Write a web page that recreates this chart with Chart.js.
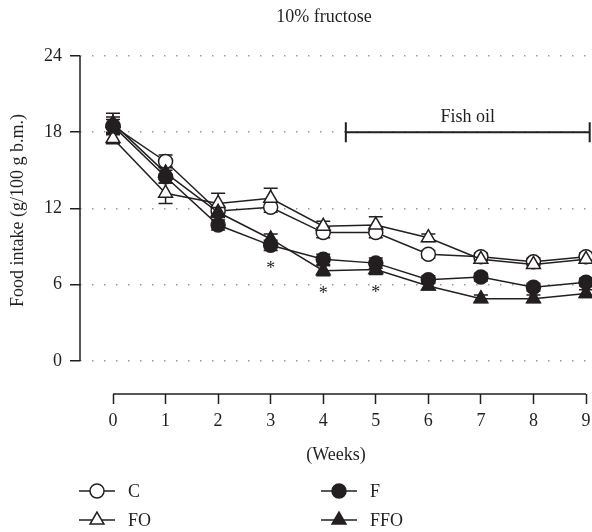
<!DOCTYPE html>
<html>
<head>
<meta charset="utf-8">
<script src="https://cdn.jsdelivr.net/npm/chart.js@4/dist/chart.umd.min.js"></script>
<style>
  html, body { margin: 0; padding: 0; background: #fff; }
  #wrap { width: 592px; height: 532px; }
</style>
</head>
<body>
<div id="wrap"><canvas id="chart-intake" width="592" height="532"></canvas></div>
<script>
// Food intake, 10% fructose study
const weeks = [0, 1, 2, 3, 4, 5, 6, 7, 8, 9];
const yTicks = [0, 6, 12, 18, 24];

const intakeC   = [18.5, 15.7, 11.8, 12.1, 10.1, 10.1, 8.4, 8.2, 7.8, 8.2];
const intakeFO  = [17.5, 13.2, 12.4, 12.8, 10.6, 10.7, 9.7, 8.0, 7.6, 8.0];
const intakeF   = [18.5, 14.5, 10.7, 9.1, 8.0, 7.7, 6.4, 6.6, 5.8, 6.2];
const intakeFFO = [18.7, 14.8, 11.7, 9.6, 7.1, 7.2, 5.9, 4.9, 4.9, 5.3];

const semC   = [0.5, 0.5, 0.4, 0.4, 0.4, 0.4, 0.3, 0.3, 0.3, 0.3];
const semFO  = [0.4, 0.8, 0.8, 0.8, 0.4, 0.65, 0.3, 0.3, 0.3, 0.3];
const semF   = [0.7, 0.5, 0.4, 0.4, 0.4, 0.4, 0.3, 0.3, 0.3, 0.3];
const semFFO = [0.8, 0.5, 0.4, 0.4, 0.4, 0.4, 0.3, 0.3, 0.3, 0.3];

const sigWeeks = [3, 4, 5];
const fishOilWeeks = [4.43, 9.07];
const fishOilLevel = 18;

const ink = '#231F20';
const serif = "'Liberation Serif', 'DejaVu Serif', serif";

function series(label, values, sem, style, filled, order) {
  return {
    label: label,
    data: values.map((v, i) => ({ x: weeks[i], y: v })),
    sem: sem,
    borderColor: ink,
    borderWidth: 1.5,
    backgroundColor: filled ? ink : '#FFFFFF',
    pointStyle: style,
    pointRadius: style === 'triangle' ? 8 : 7,
    pointBorderWidth: 1.5,
    pointBorderColor: ink,
    pointBackgroundColor: filled ? ink : '#FFFFFF',
    tension: 0,
    order: order,
  };
}

const extras = {
  id: 'extras',
  beforeDatasetsDraw(chart) {
    const { ctx, scales: { x, y } } = chart;
    ctx.save();
    ctx.strokeStyle = ink;
    ctx.lineWidth = 1.5;
    // error bars
    chart.data.datasets.forEach(ds => {
      ds.data.forEach((p, i) => {
        const e = ds.sem[i];
        const px = x.getPixelForValue(p.x);
        const top = y.getPixelForValue(p.y + e);
        const bot = y.getPixelForValue(p.y - e);
        ctx.beginPath();
        ctx.moveTo(px, top); ctx.lineTo(px, bot);
        ctx.moveTo(px - 7, top); ctx.lineTo(px + 7, top);
        ctx.moveTo(px - 7, bot); ctx.lineTo(px + 7, bot);
        ctx.stroke();
      });
    });
    // axis lines
    ctx.beginPath();
    ctx.moveTo(x.left, y.getPixelForValue(yTicks[0]));
    ctx.lineTo(x.left, y.getPixelForValue(yTicks[yTicks.length - 1]));
    ctx.moveTo(x.getPixelForValue(weeks[0]), y.bottom);
    ctx.lineTo(x.getPixelForValue(weeks[weeks.length - 1]), y.bottom);
    ctx.stroke();
    ctx.restore();
  },
  afterDraw(chart) {
    const { ctx, scales: { x, y } } = chart;
    ctx.save();
    ctx.fillStyle = ink;
    ctx.strokeStyle = ink;
    ctx.font = '18px ' + serif;
    ctx.textAlign = 'center';
    ctx.textBaseline = 'middle';

    // chart title
    ctx.fillText('10% fructose', 324, 17);

    // y axis title
    ctx.save();
    ctx.translate(18, y.getPixelForValue(12) + 2);
    ctx.rotate(-Math.PI / 2);
    ctx.fillText('Food intake (g/100 g b.m.)', 0, 0);
    ctx.restore();

    // fish oil bracket
    const bx1 = x.getPixelForValue(fishOilWeeks[0]);
    const bx2 = x.getPixelForValue(fishOilWeeks[1]);
    const by = y.getPixelForValue(fishOilLevel);
    ctx.lineWidth = 2;
    ctx.beginPath();
    ctx.moveTo(bx1, by); ctx.lineTo(bx2, by);
    ctx.moveTo(bx1, by - 10); ctx.lineTo(bx1, by + 10);
    ctx.moveTo(bx2, by - 10); ctx.lineTo(bx2, by + 10);
    ctx.stroke();
    ctx.fillText('Fish oil', (bx1 + bx2) / 2, by - 15);

    // significance marks under the fructose groups
    sigWeeks.forEach(w => {
      const i = weeks.indexOf(w);
      const low = Math.min(intakeF[i], intakeFFO[i]);
      ctx.fillText('*', x.getPixelForValue(w), y.getPixelForValue(low) + 24);
    });

    // legend
    const slots = [[97, 491], [97, 520], [339, 491], [339, 520]];
    ctx.lineWidth = 1.5;
    chart.data.datasets.forEach((ds, k) => {
      const [lx, ly] = slots[k];
      ctx.beginPath();
      ctx.moveTo(lx - 18, ly); ctx.lineTo(lx + 18, ly);
      ctx.stroke();
      ctx.fillStyle = ds.pointBackgroundColor;
      Chart.helpers.drawPoint(ctx, {
        pointStyle: ds.pointStyle, radius: ds.pointRadius, rotation: 0, borderWidth: 1.5,
      }, lx, ly);
      ctx.fillStyle = ink;
      ctx.textAlign = 'left';
      ctx.fillText(ds.label, lx + 31, ly + 1);
    });
    ctx.restore();
  },
};

const ctx = document.getElementById('chart-intake');
new Chart(ctx, {
  type: 'line',
  data: {
    datasets: [
      series('C', intakeC, semC, 'circle', false, 3),
      series('FO', intakeFO, semFO, 'triangle', false, 2),
      series('F', intakeF, semF, 'circle', true, 1),
      series('FFO', intakeFFO, semFFO, 'triangle', true, 0),
    ],
  },
  options: {
    responsive: false,
    animation: false,
    clip: false,
    layout: { autoPadding: false, padding: { left: 0, right: 0, top: 56, bottom: 58 } },
    plugins: {
      legend: { display: false },
      tooltip: { enabled: false },
      title: { display: false },
    },
    scales: {
      x: {
        type: 'linear',
        min: -0.628,
        max: 9.114,
        afterBuildTicks: s => { s.ticks = weeks.map(v => ({ value: v })); },
        afterFit: s => { s.height = 80; s.paddingLeft = 0; s.paddingRight = 0; },
        border: { display: false },
        grid: { drawOnChartArea: false, drawTicks: true, tickLength: 10, tickColor: ink, tickWidth: 1.5 },
        ticks: { color: ink, padding: 6, font: { family: serif, size: 18 }, maxRotation: 0 },
        title: {
          display: true,
          text: '(Weeks)',
          color: ink,
          font: { family: serif, size: 18 },
          padding: { top: 0, bottom: 8 },
        },
      },
      y: {
        min: -2.6,
        max: 24,
        afterBuildTicks: s => { s.ticks = yTicks.map(v => ({ value: v })); },
        afterFit: s => { s.width = 80; s.paddingTop = 0; s.paddingBottom = 0; },
        border: { display: false, dash: [1.5, 10.5] },
        grid: { color: '#9A9A9A', lineWidth: 1.5, drawTicks: true, tickLength: 10, tickColor: ink, tickWidth: 1.5 },
        ticks: { color: ink, padding: 8, font: { family: serif, size: 18 } },
      },
    },
  },
  plugins: [extras],
});
</script>
</body>
</html>
